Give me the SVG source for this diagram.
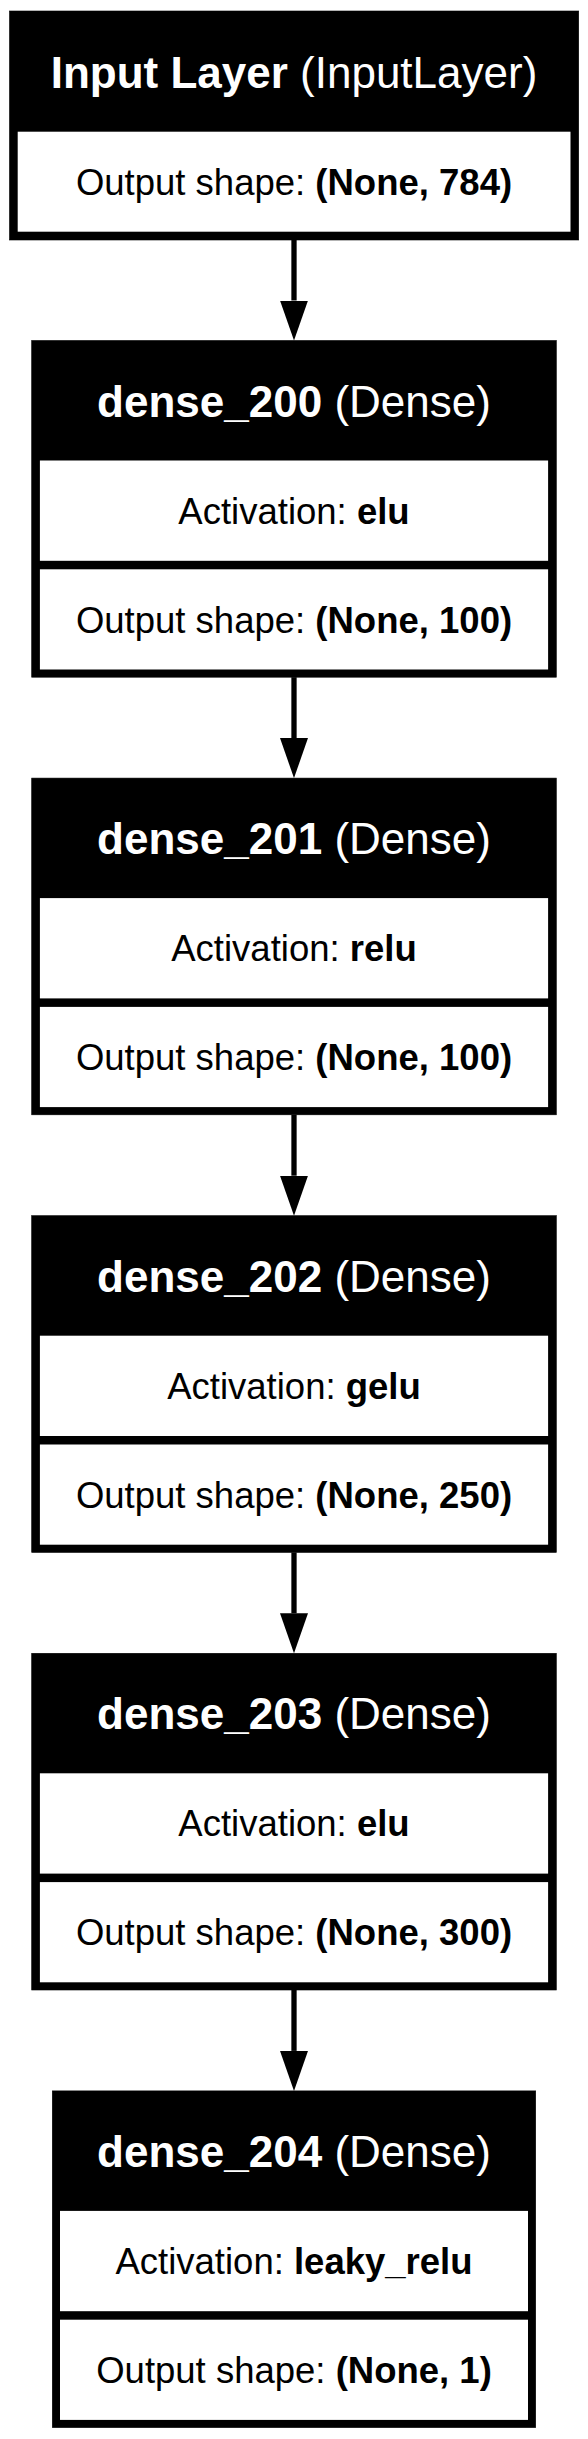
<svg xmlns="http://www.w3.org/2000/svg" width="588" height="2439" viewBox="0 0 588 2439">
<defs>
<style>
.box{fill:#000;stroke:#000;stroke-width:0.6}
.cell{fill:#fff}
.h{font-family:"Liberation Sans",Arial,Helvetica,sans-serif;font-size:44px;fill:#fff;text-anchor:middle}
.t{font-family:"Liberation Sans",Arial,Helvetica,sans-serif;font-size:36.5px;fill:#000;text-anchor:middle}
.b{font-weight:bold}
.edge{stroke:#000;stroke-width:5.3;fill:none}
</style>
<marker id="ah" viewBox="0 0 40 28" refX="0" refY="14" markerWidth="40" markerHeight="28" markerUnits="userSpaceOnUse" orient="auto">
<path d="M0,0 L40,14 L0,28 Z" fill="#000"/>
</marker>
</defs>
<rect width="588" height="2439" fill="#fff"/>
<g id="connectors">
<line class="edge" x1="294" y1="240" x2="294" y2="300.5" marker-end="url(#ah)"/>
<line class="edge" x1="294" y1="677.2" x2="294" y2="738.1" marker-end="url(#ah)"/>
<line class="edge" x1="294" y1="1114.8" x2="294" y2="1175.7" marker-end="url(#ah)"/>
<line class="edge" x1="294" y1="1552.4" x2="294" y2="1613.3" marker-end="url(#ah)"/>
<line class="edge" x1="294" y1="1990" x2="294" y2="2050.9" marker-end="url(#ah)"/>
</g>
<g id="input_layer">
<rect class="box" x="9.5" y="11" width="569.2" height="229"/>
<rect class="cell" x="17.7" y="131.7" width="552.8" height="100"/>
<text class="h" x="294" y="87.5"><tspan class="b">Input Layer</tspan> (InputLayer)</text>
<text class="t" x="294" y="194.7">Output shape: <tspan class="b">(None, 784)</tspan></text>
</g>
<g id="dense_200">
<rect class="box" x="31.7" y="340.5" width="524.6" height="336.7"/>
<rect class="cell" x="39.9" y="460.5" width="508.2" height="100.3"/>
<rect class="cell" x="39.9" y="569.3" width="508.2" height="100.2"/>
<text class="h" x="294" y="416.5"><tspan class="b">dense_200</tspan> (Dense)</text>
<text class="t" x="294" y="523.5">Activation: <tspan class="b">elu</tspan></text>
<text class="t" x="294" y="632.5">Output shape: <tspan class="b">(None, 100)</tspan></text>
</g>
<g id="dense_201">
<rect class="box" x="31.7" y="778.1" width="524.6" height="336.7"/>
<rect class="cell" x="39.9" y="898.1" width="508.2" height="100.3"/>
<rect class="cell" x="39.9" y="1006.9" width="508.2" height="100.2"/>
<text class="h" x="294" y="854.1"><tspan class="b">dense_201</tspan> (Dense)</text>
<text class="t" x="294" y="961.1">Activation: <tspan class="b">relu</tspan></text>
<text class="t" x="294" y="1070.1">Output shape: <tspan class="b">(None, 100)</tspan></text>
</g>
<g id="dense_202">
<rect class="box" x="31.7" y="1215.7" width="524.6" height="336.7"/>
<rect class="cell" x="39.9" y="1335.7" width="508.2" height="100.3"/>
<rect class="cell" x="39.9" y="1444.5" width="508.2" height="100.2"/>
<text class="h" x="294" y="1291.7"><tspan class="b">dense_202</tspan> (Dense)</text>
<text class="t" x="294" y="1398.7">Activation: <tspan class="b">gelu</tspan></text>
<text class="t" x="294" y="1507.7">Output shape: <tspan class="b">(None, 250)</tspan></text>
</g>
<g id="dense_203">
<rect class="box" x="31.7" y="1653.3" width="524.6" height="336.7"/>
<rect class="cell" x="39.9" y="1773.3" width="508.2" height="100.3"/>
<rect class="cell" x="39.9" y="1882.1" width="508.2" height="100.2"/>
<text class="h" x="294" y="1729.3"><tspan class="b">dense_203</tspan> (Dense)</text>
<text class="t" x="294" y="1836.3">Activation: <tspan class="b">elu</tspan></text>
<text class="t" x="294" y="1945.3">Output shape: <tspan class="b">(None, 300)</tspan></text>
</g>
<g id="dense_204">
<rect class="box" x="52.3" y="2090.9" width="483.4" height="336.7"/>
<rect class="cell" x="60" y="2210.9" width="468" height="100.3"/>
<rect class="cell" x="60" y="2319.7" width="468" height="100.2"/>
<text class="h" x="294" y="2166.9"><tspan class="b">dense_204</tspan> (Dense)</text>
<text class="t" x="294" y="2273.9">Activation: <tspan class="b">leaky_relu</tspan></text>
<text class="t" x="294" y="2382.9">Output shape: <tspan class="b">(None, 1)</tspan></text>
</g>
</svg>
